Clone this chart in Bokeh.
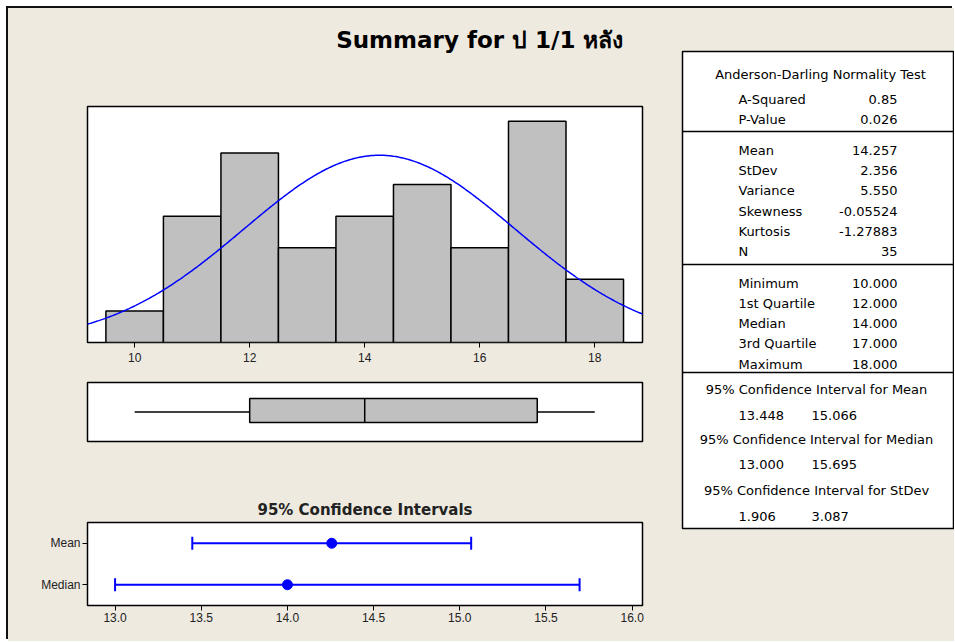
import numpy as np
from bokeh.plotting import figure
from bokeh.layouts import row, column
from bokeh.models import (Range1d, FactorRange, FixedTicker, Span, Whisker, TeeHead,
                          ColumnDataSource, NumeralTickFormatter)
from bokeh.core.properties import value
from bokeh.embed import file_html
from bokeh.resources import INLINE

# ---------------- data ----------------
title_text = "Summary for ป 1/1 หลัง"
bin_centers = [10, 11, 12, 13, 14, 15, 16, 17, 18]
bin_counts = [1, 4, 6, 3, 4, 5, 3, 7, 2]
hist_ticks = [10, 12, 14, 16, 18]

n_obs = 35
mean_val = 14.257
stdev_val = 2.356

box_min, box_q1, box_med, box_q3, box_max = 10.0, 12.0, 14.0, 17.0, 18.0

ci_labels = ["Mean", "Median"]
ci_estimate = [14.257, 14.0]
ci_lower = [13.448, 13.000]
ci_upper = [15.066, 15.695]
ci_ticks = [13.0, 13.5, 14.0, 14.5, 15.0, 15.5, 16.0]

ad_title = "Anderson-Darling Normality Test"
ad_labels = ["A-Squared", "P-Value"]
ad_values = ["0.85", "0.026"]
desc_labels = ["Mean", "StDev", "Variance", "Skewness", "Kurtosis", "N"]
desc_values = ["14.257", "2.356", "5.550", "-0.05524", "-1.27883", "35"]
quart_labels = ["Minimum", "1st Quartile", "Median", "3rd Quartile", "Maximum"]
quart_values = [10.000, 12.000, 14.000, 17.000, 18.000]
ci_titles = ["95% Confidence Interval for Mean",
             "95% Confidence Interval for Median",
             "95% Confidence Interval for StDev"]
ci_tab_lower = [13.448, 13.000, 1.906]
ci_tab_upper = [15.066, 15.695, 3.087]

# ---------------- styles ----------------
BG = "#EEEAE0"
GRAY = "#C0C0C0"
BLUE = "#0000FF"
TICK_FONT = "Liberation Sans"
TAB_FONT = "DejaVu Sans"


def base_fig(**kw):
    p = figure(output_backend="svg", toolbar_location=None, **kw)
    p.background_fill_color = "white"
    p.border_fill_color = BG
    p.outline_line_color = "black"
    p.outline_line_width = 1.5
    p.grid.visible = False
    return p


# ---------------- main title strip ----------------
pt = figure(output_backend="svg", toolbar_location=None, width=672, height=96,
            x_range=Range1d(8, 680), y_range=Range1d(104, 8),
            min_border_left=0, min_border_right=0, min_border_top=0, min_border_bottom=0)
pt.background_fill_color = BG
pt.border_fill_color = BG
pt.outline_line_color = None
pt.grid.visible = False
pt.axis.visible = False
pt.text(x=[483], y=[39], text=[title_text], text_align="center", text_baseline="middle",
        text_font=value("DejaVu Sans"), text_font_style="bold", text_font_size="23px",
        text_color="black")

# ---------------- histogram ----------------
xr = Range1d(9.18, 18.83)
p1 = base_fig(width=672, height=268, x_range=xr, y_range=Range1d(0, 7.47),
              min_border_left=79, min_border_right=38, min_border_top=2, min_border_bottom=30)

p1.vbar(x=bin_centers, top=bin_counts, width=1.0, bottom=0,
        fill_color=GRAY, line_color="black", line_width=1.5)

xs = np.linspace(9.0, 19.0, 400)
ys = n_obs * 1.0 / (stdev_val * np.sqrt(2 * np.pi)) * np.exp(-0.5 * ((xs - mean_val) / stdev_val) ** 2)
p1.line(xs, ys, line_color=BLUE, line_width=1.5)

p1.yaxis.visible = False
ax = p1.xaxis[0]
ax.ticker = FixedTicker(ticks=hist_ticks)
ax.axis_line_color = None
ax.major_tick_out = 5
ax.major_tick_in = 0
ax.minor_tick_line_color = None
ax.major_label_text_font = TICK_FONT
ax.major_label_text_font_size = "12px"
ax.major_label_text_color = "#222222"
ax.major_label_standoff = 5

# ---------------- boxplot ----------------
p2 = base_fig(width=672, height=83, x_range=xr, y_range=Range1d(0, 1),
              min_border_left=79, min_border_right=38, min_border_top=10, min_border_bottom=14)
p2.axis.visible = False
p2.segment(x0=[box_min, box_q3], x1=[box_q1, box_max], y0=[0.5, 0.5], y1=[0.5, 0.5],
           line_color="black", line_width=1.5)
p2.quad(left=[box_q1], right=[box_q3], bottom=[0.32], top=[0.73],
        fill_color=GRAY, line_color="black", line_width=1.5)
p2.segment(x0=[box_med], x1=[box_med], y0=[0.32], y1=[0.73], line_color="black", line_width=1.5)

# ---------------- confidence intervals ----------------
p3 = base_fig(width=672, height=186, x_range=Range1d(12.84, 16.06),
              y_range=FactorRange(factors=list(reversed(ci_labels))),
              min_border_left=79, min_border_right=38, min_border_top=67, min_border_bottom=36,
              title="95% Confidence Intervals")
p3.title.align = "center"
p3.title.text_font = "DejaVu Sans"
p3.title.text_font_style = "bold"
p3.title.text_font_size = "15px"
p3.title.text_color = "#222222"
p3.title.standoff = 7

src = ColumnDataSource(dict(lab=ci_labels, est=ci_estimate, lo=ci_lower, hi=ci_upper))
wh = Whisker(source=src, base="lab", lower="lo", upper="hi", dimension="width",
             line_color=BLUE, line_width=2,
             lower_head=TeeHead(size=13, line_color=BLUE, line_width=2),
             upper_head=TeeHead(size=13, line_color=BLUE, line_width=2))
p3.add_layout(wh)
p3.scatter(x="est", y="lab", source=src, size=10, fill_color=BLUE, line_color=BLUE)

for a in p3.axis:
    a.axis_line_color = None
    a.major_tick_out = 5
    a.major_tick_in = 0
    a.minor_tick_line_color = None
    a.major_label_text_font = TICK_FONT
    a.major_label_text_font_size = "12px"
    a.major_label_text_color = "#222222"
    a.major_label_standoff = 2
p3.xaxis[0].ticker = FixedTicker(ticks=ci_ticks)
p3.xaxis[0].formatter = NumeralTickFormatter(format="0.0")

# ---------------- statistics table ----------------
p4 = base_fig(width=274, height=633, x_range=Range1d(682, 953), y_range=Range1d(528, 51),
              min_border_left=2, min_border_right=1, min_border_top=43, min_border_bottom=113)
p4.axis.visible = False
for yy in (131, 264, 372):
    p4.add_layout(Span(location=yy, dimension="width", line_color="black", line_width=1.5))

tfont = dict(text_font=value(TAB_FONT), text_font_size="13px", text_color="black",
             text_baseline="middle")

LAB_X, VAL_R = 738, 897
p4.text(x=[820], y=[74], text=[ad_title], text_align="center", **tfont)
ad_y = [99, 119]
p4.text(x=[LAB_X] * len(ad_labels), y=ad_y, text=ad_labels, text_align="left", **tfont)
p4.text(x=[VAL_R] * len(ad_values), y=ad_y, text=ad_values, text_align="right", **tfont)

desc_y = [150, 170, 190, 211, 231, 251]
p4.text(x=[LAB_X] * len(desc_labels), y=desc_y, text=desc_labels, text_align="left", **tfont)
p4.text(x=[VAL_R] * len(desc_values), y=desc_y, text=desc_values, text_align="right", **tfont)

quart_y = [283, 303, 323, 343, 364]
p4.text(x=[LAB_X] * len(quart_labels), y=quart_y, text=quart_labels, text_align="left", **tfont)
p4.text(x=[VAL_R] * len(quart_values), y=quart_y, text=["%.3f" % v for v in quart_values],
        text_align="right", **tfont)

ci_title_y = [389, 439, 490]
ci_val_y = [415, 464, 516]
p4.text(x=[816] * 3, y=ci_title_y, text=ci_titles, text_align="center", **tfont)
p4.text(x=[LAB_X] * 3, y=ci_val_y, text=["%.3f" % v for v in ci_tab_lower], text_align="left", **tfont)
p4.text(x=[811] * 3, y=ci_val_y, text=["%.3f" % v for v in ci_tab_upper], text_align="left", **tfont)

layout = row(column(pt, p1, p2, p3), p4,
             styles={"margin-left": "8px", "margin-top": "8px",
                     "background-color": BG,
                     "box-shadow": "-2px -2px 0 0 #111111"})

open("out.html", "w").write(file_html(layout, INLINE))
